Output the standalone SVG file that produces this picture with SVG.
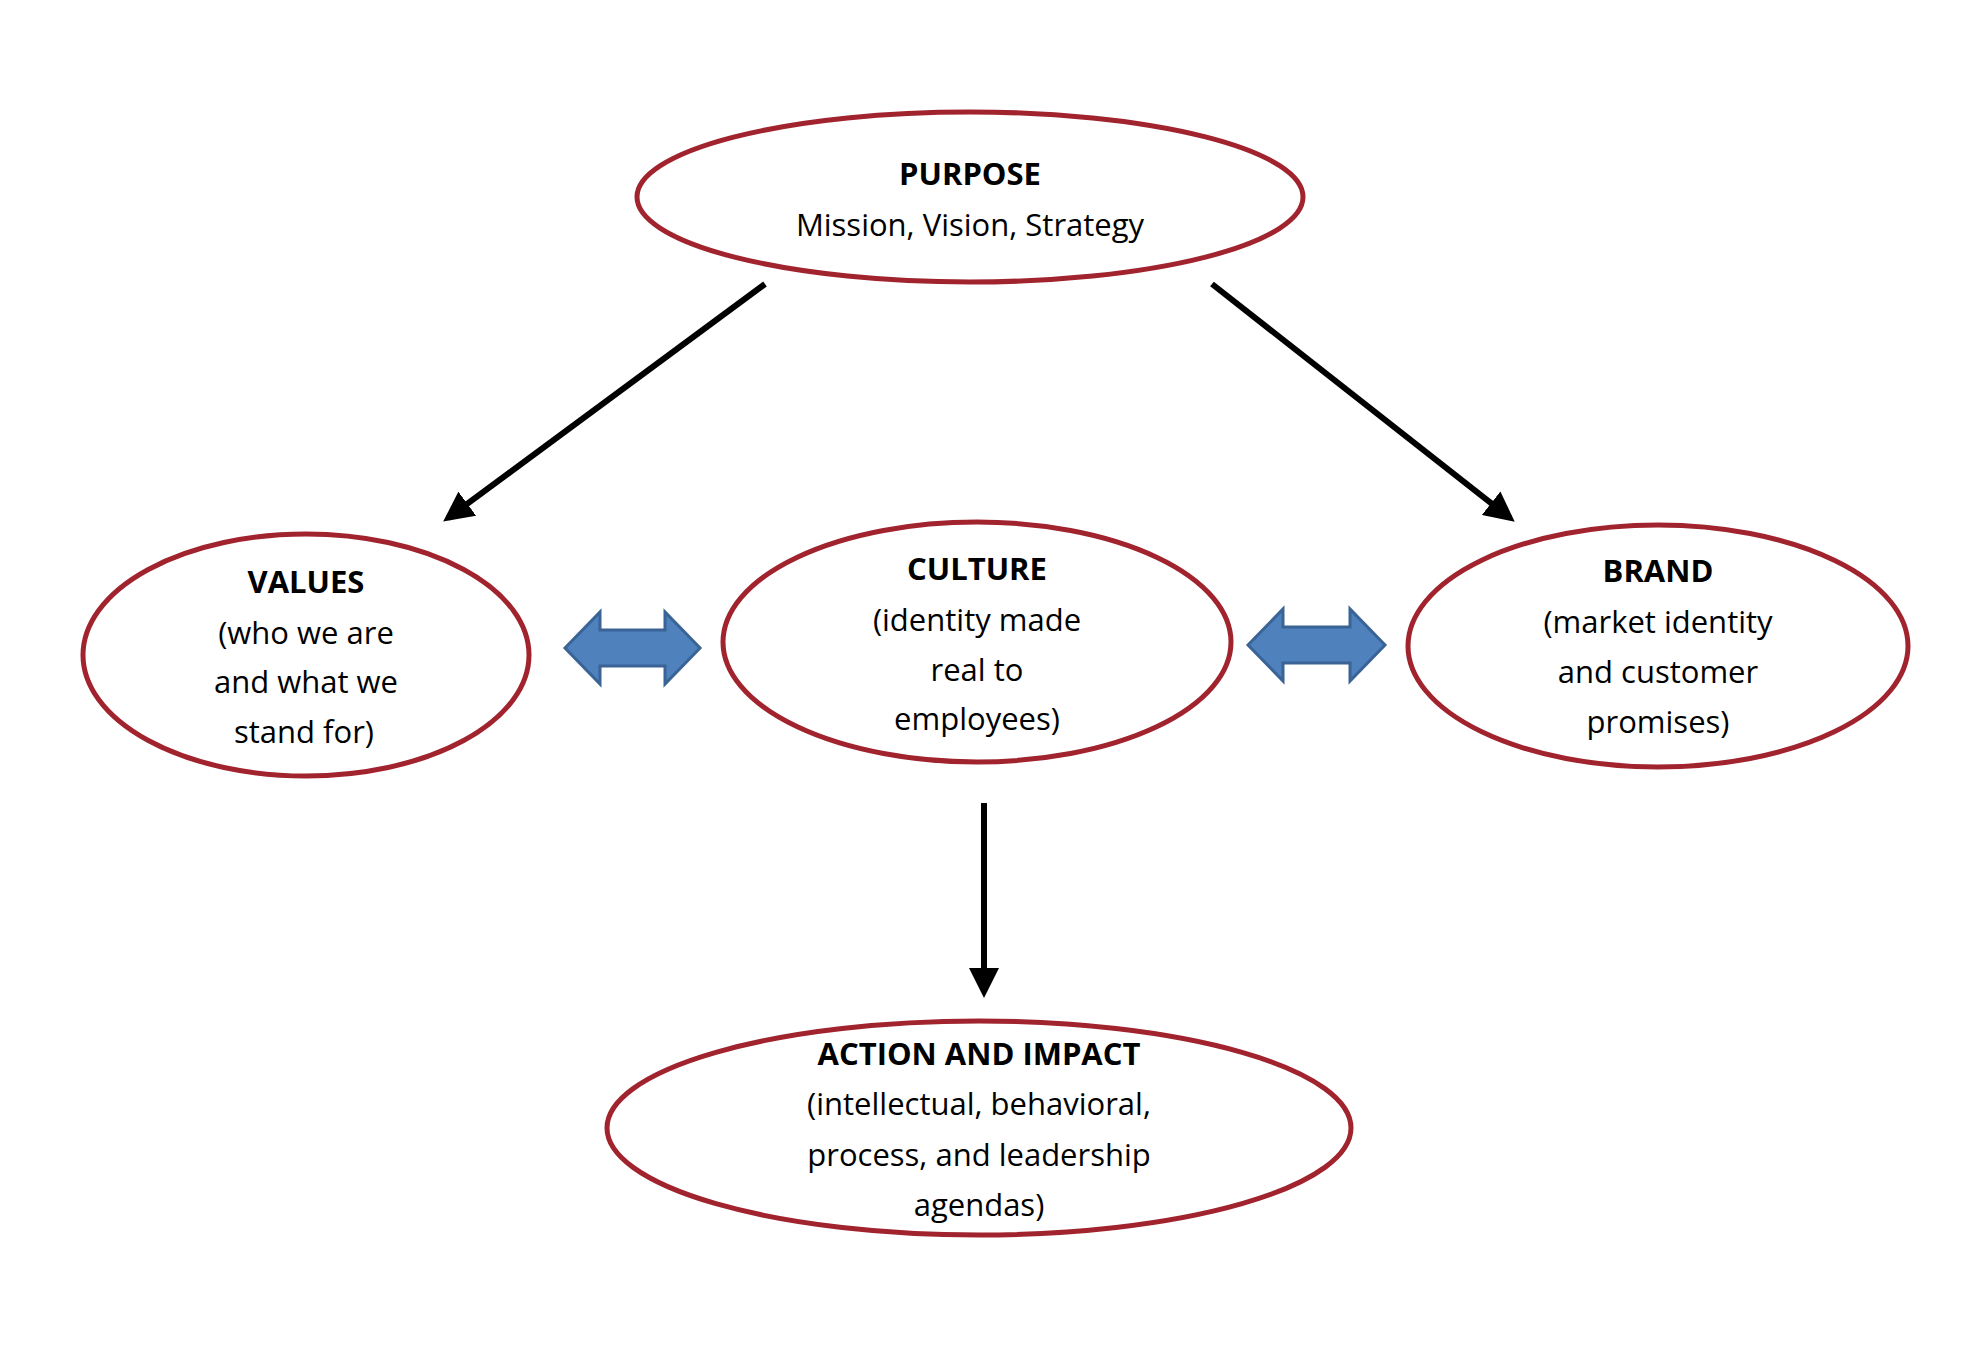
<svg xmlns="http://www.w3.org/2000/svg" width="1988" height="1348" viewBox="0 0 1988 1348">
<defs>
<style>
.n{fill:#fff;stroke:#a0232e;stroke-width:5}
text{font-family:"Open Sans","Liberation Sans",sans-serif;font-size:31px;text-anchor:middle;fill:#000}
.b{font-weight:bold}
.c{stroke:#000;stroke-width:6;fill:none}
.d{fill:#4f81bd;stroke:#3a6396;stroke-width:3}
</style>
<marker id="ah" viewBox="0 0 10 10" refX="8" refY="5" markerWidth="5" markerHeight="5" orient="auto"><path d="M0,0L10,5L0,10z" fill="#000"/></marker>
</defs>
<rect width="1988" height="1348" fill="#fff"/>
<g id="connectors">
<line class="c" x1="765" y1="284" x2="448" y2="518" marker-end="url(#ah)"/>
<line class="c" x1="1212" y1="284" x2="1510" y2="518" marker-end="url(#ah)"/>
<line class="c" x1="984" y1="803" x2="984" y2="992" marker-end="url(#ah)"/>
<path class="d" d="M565,648L600,612L600,630L665,630L665,612L700,648L665,684L665,666L600,666L600,684Z"/>
<path class="d" d="M1248,645L1283,609L1283,627L1350,627L1350,609L1385,645L1350,681L1350,663L1283,663L1283,681Z"/>
</g>
<g id="purpose"><ellipse class="n" cx="970" cy="197" rx="333" ry="85"/>
<text class="b" x="970" y="185">PURPOSE</text><text x="970" y="236">Mission, Vision, Strategy</text></g>
<g id="values"><ellipse class="n" cx="306" cy="655" rx="223" ry="121"/>
<text class="b" x="306" y="593">VALUES</text><text x="306" y="644">(who we are</text><text x="306" y="693">and what we</text><text x="304" y="743">stand for)</text></g>
<g id="culture"><ellipse class="n" cx="977" cy="642" rx="254" ry="120"/>
<text class="b" x="977" y="580">CULTURE</text><text x="977" y="631">(identity made</text><text x="977" y="681">real to</text><text x="977" y="730">employees)</text></g>
<g id="brand"><ellipse class="n" cx="1658" cy="646" rx="250" ry="121"/>
<text class="b" x="1658" y="582">BRAND</text><text x="1658" y="633">(market identity</text><text x="1658" y="683">and customer</text><text x="1658" y="733">promises)</text></g>
<g id="action"><ellipse class="n" cx="979" cy="1128" rx="372" ry="107"/>
<text class="b" x="979" y="1065">ACTION AND IMPACT</text><text x="979" y="1115">(intellectual, behavioral,</text><text x="979" y="1166">process, and leadership</text><text x="979" y="1216">agendas)</text></g>
</svg>
